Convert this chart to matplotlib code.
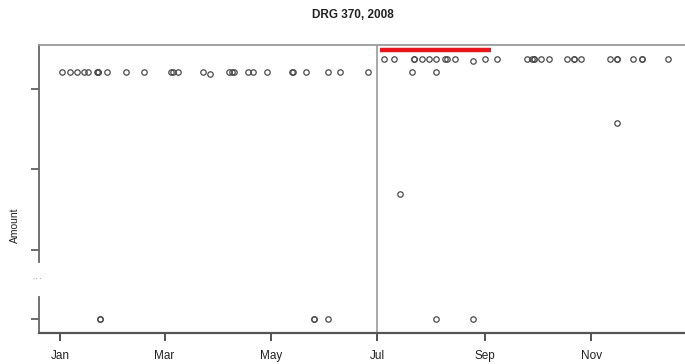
"""DRG 370 claim amounts over 2008 (scatter with a broken y axis)."""
import numpy as np
import matplotlib
matplotlib.use("Agg")
import matplotlib.pyplot as plt
import matplotlib.dates as mdates
import matplotlib.transforms as mtrans

plt.rcParams["font.family"] = ["Liberation Sans", "DejaVu Sans"]

BASE = np.datetime64("2008-01-01")

# day-of-year offsets (0 = Jan 1) and plotted amounts (axis units, break below ~4)
LEFT_DAYS = [1, 6, 10, 14, 16, 21, 22, 22, 27, 38, 48, 64, 65, 68, 82, 86,
             97, 99, 100, 108, 111, 119, 133, 134, 141, 154, 161, 177]
LEFT_AMT = [24.55] * 15 + [24.4] + [24.55] * 12

RIGHT_DAYS = [186, 192, 203, 203, 208, 212, 216, 221, 222, 227, 237, 244, 251,
              268, 271, 272, 272, 276, 281, 291, 295, 295, 299, 316, 320, 320,
              329, 334, 334, 349]
RIGHT_AMT = [25.85] * 10 + [25.68] + [25.85] * 19

MID_DAYS = [202, 216, 320, 195]
MID_AMT = [24.55, 24.55, 19.48, 12.43]

LOW_DAYS = [23, 23, 146, 146, 154, 216, 237]
LOW_AMT = [0, 0, 0, 0, 0, 0, 0]

RED_SPAN = [183.5, 247.5]     # red bar across the top
SPLIT_DAY = 182               # Jul 1 divider
Y_TICKS = [0, 6.9, 14.9, 22.9]
BREAK = (2.2, 5.65)           # gap in the y axis line


def to_dates(days):
    return BASE + np.round(np.array(days, dtype=float) * 24).astype("timedelta64[h]")


fig = plt.figure(figsize=(6.85, 3.64), dpi=100)
ax = fig.add_axes([39 / 685, 1 - 333 / 364, 653 / 685, (333 - 45) / 364])

days = LEFT_DAYS + RIGHT_DAYS + MID_DAYS + LOW_DAYS
amts = LEFT_AMT + RIGHT_AMT + MID_AMT + LOW_AMT
ax.plot(to_dates(days), amts, ls="none", marker="o", ms=3.9, mfc="none",
        mec="#4a4a4a", mew=0.9)

ax.axvline(to_dates([SPLIT_DAY])[0], color="#a8a8a8", lw=1.4, zorder=0)
ax.plot(to_dates(RED_SPAN), [26.75, 26.75], color="#e8151b", lw=3.2,
        solid_capstyle="butt")

ax.set_xlim(to_dates([-12.1])[0], to_dates([362.9])[0])
ax.set_ylim(-1.39, 27.24)

ax.xaxis.set_major_locator(mdates.MonthLocator(bymonth=[1, 3, 5, 7, 9, 11]))
ax.xaxis.set_major_formatter(mdates.DateFormatter("%b"))
ax.tick_params(axis="x", length=6, width=1.3, color="#444", pad=6,
               labelsize=8.5, labelcolor="#222")
ax.set_yticks(Y_TICKS)
ax.set_yticklabels([])
ax.tick_params(axis="y", length=6, width=1.1, color="#444")

ax.spines["right"].set_visible(False)
ax.spines["top"].set_color("#9a9a9a")
ax.spines["top"].set_linewidth(1.3)
ax.spines["bottom"].set_color("#555")
ax.spines["bottom"].set_linewidth(1.6)
ax.spines["left"].set_visible(False)

# broken y axis line
tr = mtrans.blended_transform_factory(ax.transAxes, ax.transData)
ax.plot([0, 0], [BREAK[1], 27.24], color="#666", lw=1.3, transform=tr, clip_on=False)
ax.plot([0, 0], [-1.39, BREAK[0]], color="#666", lw=1.3, transform=tr, clip_on=False)
ax.text(-0.002, sum(BREAK) / 2, "···", transform=tr, ha="center", va="center",
        fontsize=8, color="#8a8a8a")

ax.set_ylabel("Amount", fontsize=7.5, color="#222")
ax.yaxis.set_label_coords(-0.029, 0.375)
fig.text(353 / 685, 1 - 15 / 364, "DRG 370, 2008", ha="center", va="center",
         fontsize=8.5, fontweight="bold", color="#222")

fig.savefig("out.png", dpi=100)
